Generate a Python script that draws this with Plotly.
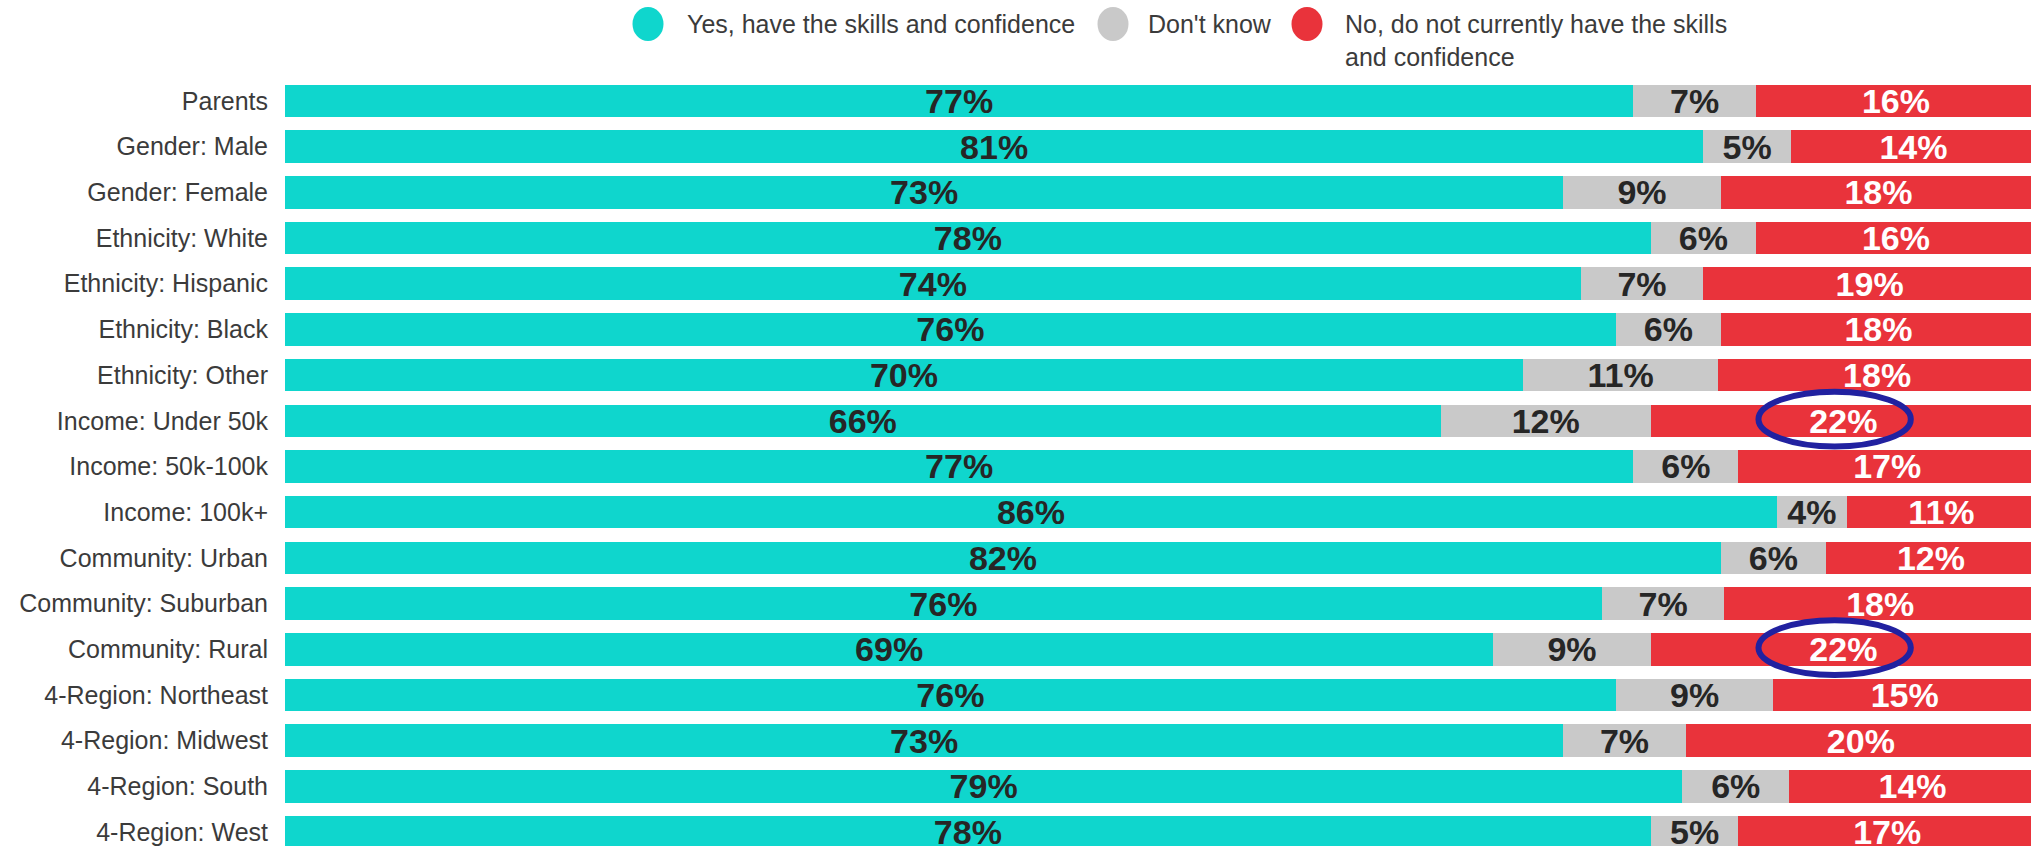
import plotly.graph_objects as go

categories = ["Parents", "Gender: Male", "Gender: Female", "Ethnicity: White",
              "Ethnicity: Hispanic", "Ethnicity: Black", "Ethnicity: Other",
              "Income: Under 50k", "Income: 50k-100k", "Income: 100k+",
              "Community: Urban", "Community: Suburban", "Community: Rural",
              "4-Region: Northeast", "4-Region: Midwest", "4-Region: South",
              "4-Region: West"]
# bar lengths (unrounded where visible)
yes_vals = [77, 81, 73, 78, 74, 76, 70.7, 66, 77, 85.2, 82, 75.2, 69, 76, 73, 79.8, 78]
dont_vals = [7, 5, 9, 6, 7, 6, 11.15, 12, 6, 4, 6, 7, 9, 9, 7, 6.1, 5]
no_vals = [16, 14, 18, 16, 19, 18, 18.15, 22, 17, 10.8, 12, 17.8, 22, 15, 20, 14.1, 17]
# printed labels
yes_labels = [77, 81, 73, 78, 74, 76, 70, 66, 77, 86, 82, 76, 69, 76, 73, 79, 78]
dont_labels = [7, 5, 9, 6, 7, 6, 11, 12, 6, 4, 6, 7, 9, 9, 7, 6, 5]
no_labels = [16, 14, 18, 16, 19, 18, 18, 22, 17, 11, 12, 18, 22, 15, 20, 14, 17]
series_names = ["Yes, have the skills and confidence", "Don't know",
                "No, do not currently have the skills<br>and confidence"]
highlighted = ["Income: Under 50k", "Community: Rural"]

W, H = 2031, 846
ML, MT = 285, 78
PITCH = 45.7
PX_PER_PCT = 17.51

TEAL, GREY, RED = "#0FD6CD", "#C9C9C9", "#E9333B"
DARK = "#262626"
FONT = "Liberation Sans, Arial, sans-serif"

fig = go.Figure()
series = [(yes_vals, yes_labels, TEAL, DARK),
          (dont_vals, dont_labels, GREY, DARK),
          (no_vals, no_labels, RED, "white")]
for (vals, labels, col, tcol), name in zip(series, series_names):
    fig.add_trace(go.Bar(
        y=categories, x=vals, orientation="h", name=name,
        marker=dict(color=col, line=dict(width=0)),
        text=[f"{v}%" for v in labels], textposition="inside",
        insidetextanchor="middle", constraintext="none",
        textfont=dict(family=FONT, size=34, color=tcol, weight="bold"),
        showlegend=False, hoverinfo="skip",
    ))

plot_w = W - ML
plot_h = H - MT
span_rows = plot_h / PITCH


def px_x(px):
    return (px - ML) / plot_w


def px_y(py):
    return (H - py) / plot_h


shapes = []
annotations = []

# highlight ellipses around selected "No" labels
for cat in highlighted:
    i = categories.index(cat)
    cx = yes_vals[i] + dont_vals[i] + no_vals[i] / 2 - 0.5
    cy = i - 0.035
    shapes.append(dict(type="circle", xref="x", yref="y",
                       x0=cx - 4.35, x1=cx + 4.35, y0=cy - 0.6, y1=cy + 0.6,
                       line=dict(color="#2121A0", width=6), fillcolor="rgba(0,0,0,0)",
                       layer="above"))

# custom legend
legend_items = [(648, 685, TEAL, series_names[0]),
                (1113, 1146, GREY, series_names[1]),
                (1307, 1343, RED, series_names[2])]
for cxp, txp, col, label in legend_items:
    shapes.append(dict(type="circle", xref="paper", yref="paper",
                       xsizemode="pixel", ysizemode="pixel",
                       xanchor=px_x(cxp), yanchor=px_y(24),
                       x0=-15.5, x1=15.5, y0=-17, y1=17,
                       fillcolor=col, line=dict(width=0)))
    annotations.append(dict(xref="paper", yref="paper", x=px_x(txp), y=px_y(8),
                            xanchor="left", yanchor="top", align="left",
                            showarrow=False, text=label,
                            font=dict(family=FONT, size=25, color="#3b3b3b")))

fig.update_layout(
    width=W, height=H,
    margin=dict(l=ML, r=0, t=MT, b=0, pad=0, autoexpand=False),
    barmode="stack", bargap=0.289,
    plot_bgcolor="white", paper_bgcolor="white",
    xaxis=dict(range=[0, plot_w / PX_PER_PCT], visible=False, fixedrange=True),
    yaxis=dict(range=[-0.5 + span_rows, -0.5], showgrid=False, zeroline=False,
               showline=False, ticks="", ticklabelstandoff=16,
               tickfont=dict(family=FONT, size=25, color="#3b3b3b"),
               fixedrange=True),
    shapes=shapes, annotations=annotations,
    showlegend=False,
)

fig.write_html("out.html", config={"displayModeBar": False},
               post_script="document.body.style.margin='0';document.body.style.overflow='hidden';")
